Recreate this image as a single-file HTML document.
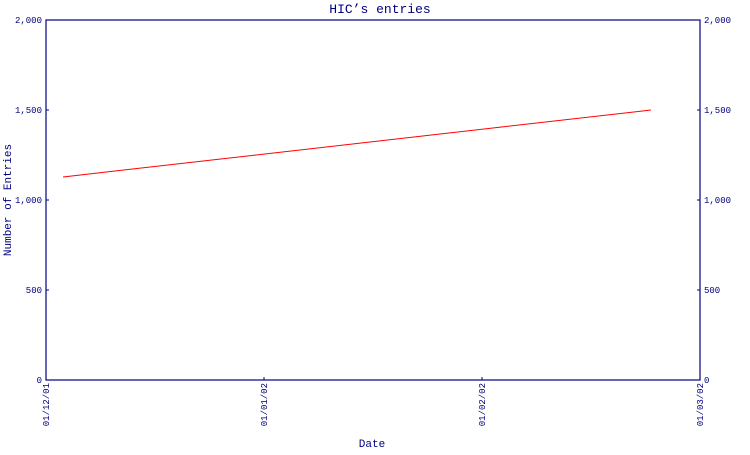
<!DOCTYPE html>
<html><head><meta charset="utf-8"><style>
body{margin:0;background:#fff;width:750px;height:450px;overflow:hidden}
svg text{font-family:"Liberation Mono",monospace;fill:#000080}
</style></head><body>
<svg width="750" height="450" viewBox="0 0 750 450">
<text x="380" y="13" font-size="13" text-anchor="middle">HIC’s entries</text>
<text transform="translate(11,200) rotate(-90)" font-size="11" text-anchor="middle">Number of Entries</text>
<text x="372" y="447" font-size="11" text-anchor="middle">Date</text>
<g id="axes"></g>
<g id="marks"></g>
</svg>
<script>
const xTickLabels=["01/12/01","01/01/02","01/02/02","01/03/02"];
const yTicks=[0,500,1000,1500,2000];
const yTickLabels=["0","500","1,000","1,500","2,000"];
const pointMonths=[0.078,2.775];
const entryValues=[1128,1500];
const L=46,R=700,T=20,B=380,NS="http://www.w3.org/2000/svg";
const xs=m=>L+(R-L)*m/(xTickLabels.length-1);
const ys=v=>B-(B-T)*v/2000;
const ax=document.getElementById('axes'),mk=document.getElementById('marks');
function mkEl(t,a,p){const e=document.createElementNS(NS,t);for(const k in a)e.setAttribute(k,a[k]);p.appendChild(e);return e;}
const frame=mkEl('rect',{x:L,y:T,width:R-L,height:B-T,fill:'none',stroke:'#000080','stroke-width':1.2},ax);


yTicks.forEach((v,i)=>{
 const y=ys(v);
 const t1=mkEl('line',{x1:L,x2:L+3,y1:y,y2:y,stroke:'#000080'},ax);
 
 
 const t2=mkEl('line',{x1:R-3,x2:R,y1:y,y2:y,stroke:'#000080'},ax);
 
 
 const a=mkEl('text',{x:L-4,y:y+3,'font-size':9,'text-anchor':'end'},ax);a.textContent=yTickLabels[i];
 
 
 const b=mkEl('text',{x:R+4,y:y+3,'font-size':9},ax);b.textContent=yTickLabels[i];
 
 
});
xTickLabels.forEach((l,i)=>{
 const x=xs(i);
 const t=mkEl('line',{x1:x,x2:x,y1:B-3,y2:B,stroke:'#000080'},ax);
 
 
 const tx=mkEl('text',{transform:`translate(${x+3},${B+3}) rotate(-90)`,'font-size':9,'text-anchor':'end'},ax);tx.textContent=l;
 
 
});
const pts=pointMonths.map((m,i)=>xs(m)+','+ys(entryValues[i])).join(' ');
const line=mkEl('polyline',{points:pts,fill:'none',stroke:'#ff0000','stroke-width':1},mk);


</script>
</body></html>
